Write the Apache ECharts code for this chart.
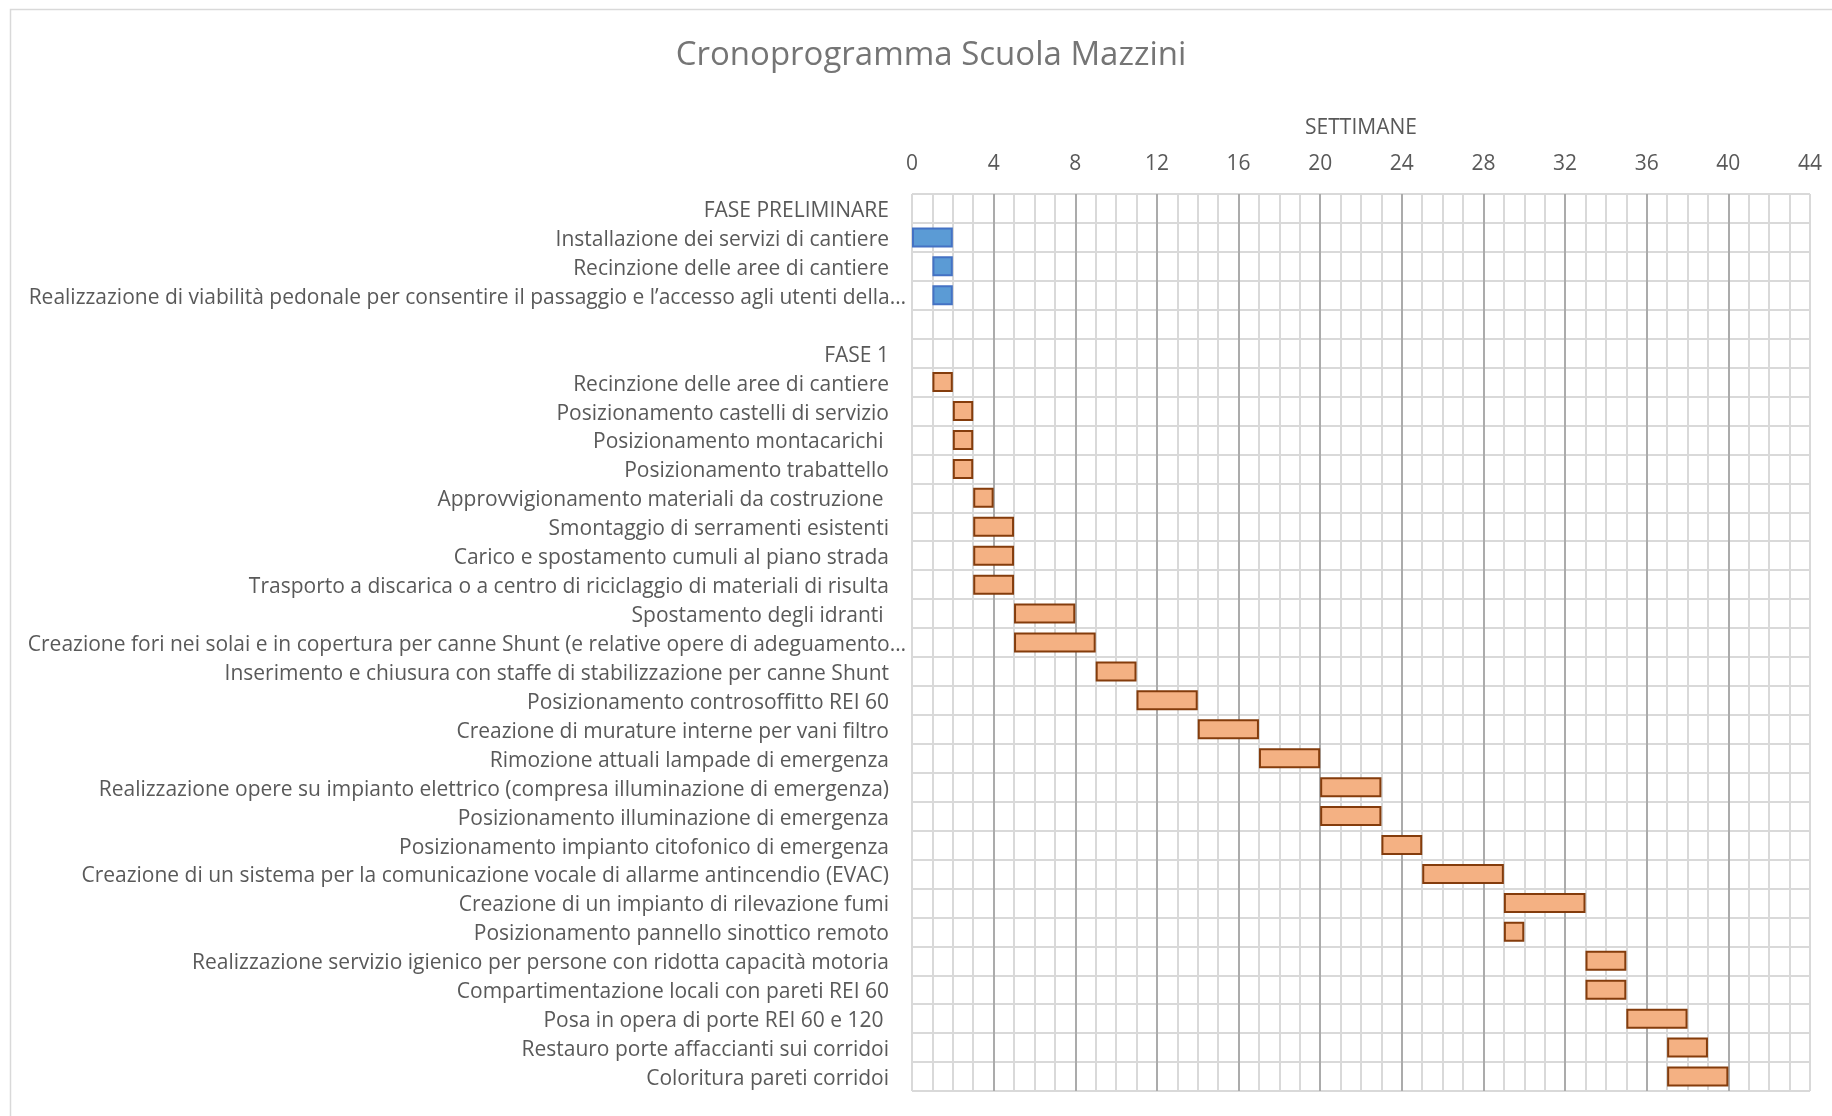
<!DOCTYPE html>
<html>
<head>
<meta charset="utf-8">
<title>Cronoprogramma Scuola Mazzini</title>
<script src="https://cdn.jsdelivr.net/npm/echarts@6/dist/echarts.min.js"></script>
<style>
  html, body { margin: 0; padding: 0; background: #fff; }
  #chart-container { width: 1832px; height: 1116px; }
</style>
</head>
<body>
<div id="chart-container"></div>
<script>
// attività (dall'alto verso il basso)
const tasks = [
  "FASE PRELIMINARE",
  "Installazione dei servizi di cantiere",
  "Recinzione delle aree di cantiere",
  "Realizzazione di viabilità pedonale per consentire il passaggio e l’accesso agli utenti della…",
  "",
  "FASE 1",
  "Recinzione delle aree di cantiere",
  "Posizionamento castelli di servizio",
  "Posizionamento montacarichi ",
  "Posizionamento trabattello",
  "Approvvigionamento materiali da costruzione ",
  "Smontaggio di serramenti esistenti",
  "Carico e spostamento cumuli al piano strada",
  "Trasporto a discarica o a centro di riciclaggio di materiali di risulta",
  "Spostamento degli idranti ",
  "Creazione fori nei solai e in copertura per canne Shunt (e relative opere di adeguamento…",
  "Inserimento e chiusura con staffe di stabilizzazione per canne Shunt",
  "Posizionamento controsoffitto REI 60",
  "Creazione di murature interne per vani filtro",
  "Rimozione attuali lampade di emergenza",
  "Realizzazione opere su impianto elettrico (compresa illuminazione di emergenza)",
  "Posizionamento illuminazione di emergenza",
  "Posizionamento impianto citofonico di emergenza",
  "Creazione di un sistema per la comunicazione vocale di allarme antincendio (EVAC)",
  "Creazione di un impianto di rilevazione fumi",
  "Posizionamento pannello sinottico remoto",
  "Realizzazione servizio igienico per persone con ridotta capacità motoria",
  "Compartimentazione locali con pareti REI 60",
  "Posa in opera di porte REI 60 e 120 ",
  "Restauro porte affaccianti sui corridoi",
  "Coloritura pareti corridoi"
];

// settimana di inizio
const startWeek = [null, 0, 1, 1, null, null, 1, 2, 2, 2, 3, 3, 3, 3, 5, 5, 9, 11, 14, 17, 20, 20, 23, 25, 29, 29, 33, 33, 35, 37, 37];

// durata in settimane
const durationWeeks = [null, 2, 1, 1, null, null, 1, 1, 1, 1, 1, 2, 2, 2, 3, 4, 2, 3, 3, 3, 3, 3, 2, 4, 4, 1, 2, 2, 3, 2, 3];

// fase di appartenenza
const phaseOf = [
  "prel", "prel", "prel", "prel", "prel",
  "f1", "f1", "f1", "f1", "f1", "f1", "f1", "f1", "f1", "f1", "f1", "f1", "f1",
  "f1", "f1", "f1", "f1", "f1", "f1", "f1", "f1", "f1", "f1", "f1", "f1", "f1"
];

const weekTicks = [0, 4, 8, 12, 16, 20, 24, 28, 32, 36, 40, 44];

const phaseStyle = {
  prel: { color: "#5B9BD5", borderColor: "#4472C4", borderWidth: 2 },
  f1: { color: "#F4B183", borderColor: "#843C0C", borderWidth: 2 }
};

const FONT = "'Open Sans', 'Noto Sans', sans-serif";

const dom = document.getElementById("chart-container");
const myChart = echarts.init(dom, null, { renderer: "canvas" });

// linee principali: i bordi a 0 e 44 restano chiari come in Excel
const majorColors = weekTicks.map((w, i) =>
  i === 0 || i === weekTicks.length - 1 ? "#D9D9D9" : "#ABABAB"
);

const durationData = durationWeeks.map((d, i) =>
  d == null ? null : { value: d, itemStyle: phaseStyle[phaseOf[i]] }
);

const option = {
  animation: false,
  backgroundColor: "#fff",
  textStyle: { fontFamily: FONT },
  title: {
    text: "Cronoprogramma Scuola Mazzini",
    left: 926,
    top: 34,
    textAlign: "center",
    textStyle: { fontFamily: FONT, fontSize: 33, fontWeight: "normal", color: "#757575" }
  },
  graphic: [
    {
      type: "rect",
      z: -10,
      silent: true,
      shape: { x: 10.5, y: 9.5, width: 1900, height: 1200 },
      style: { fill: "none", stroke: "#D9D9D9", lineWidth: 1.5 }
    }
  ],
  grid: { left: 912, right: 22, top: 194, bottom: 25, containLabel: false },
  xAxis: {
    type: "value",
    position: "top",
    min: 0,
    max: 44,
    interval: 4,
    name: "SETTIMANE",
    nameLocation: "middle",
    nameGap: 55,
    nameTextStyle: { fontFamily: FONT, fontSize: 21, color: "#595959" },
    axisLine: { show: false },
    axisTick: { show: false },
    axisLabel: { fontFamily: FONT, fontSize: 21, color: "#595959", margin: 19 },
    splitLine: { show: true, lineStyle: { color: majorColors, width: 2 } },
    minorTick: { show: false, splitNumber: 4 },
    minorSplitLine: { show: true, lineStyle: { color: "#D9D9D9", width: 2 } }
  },
  yAxis: {
    type: "category",
    inverse: true,
    data: tasks,
    axisLine: { show: false },
    axisTick: { show: false },
    splitLine: { show: true, interval: 0, lineStyle: { color: "#D9D9D9", width: 2 } },
    axisLabel: {
      interval: 0,
      fontFamily: FONT,
      fontSize: 21,
      color: "#595959",
      margin: 23,
      padding: [5, 0, 0, 0],
      formatter: (v) => (v.endsWith("…") ? "{long|" + v + "}" : v),
      rich: {
        long: { fontFamily: FONT, fontSize: 21, color: "#595959", padding: [0, -17, 0, 0] }
      }
    }
  },
  series: [
    {
      name: "Inizio",
      type: "bar",
      stack: "gantt",
      silent: true,
      barWidth: 20,
      itemStyle: { color: "transparent", borderWidth: 0 },
      data: startWeek
    },
    {
      name: "Durata",
      type: "bar",
      stack: "gantt",
      silent: true,
      barWidth: 20,
      data: durationData
    }
  ]
};

myChart.setOption(option);
window.addEventListener("resize", myChart.resize);
</script>
</body>
</html>
